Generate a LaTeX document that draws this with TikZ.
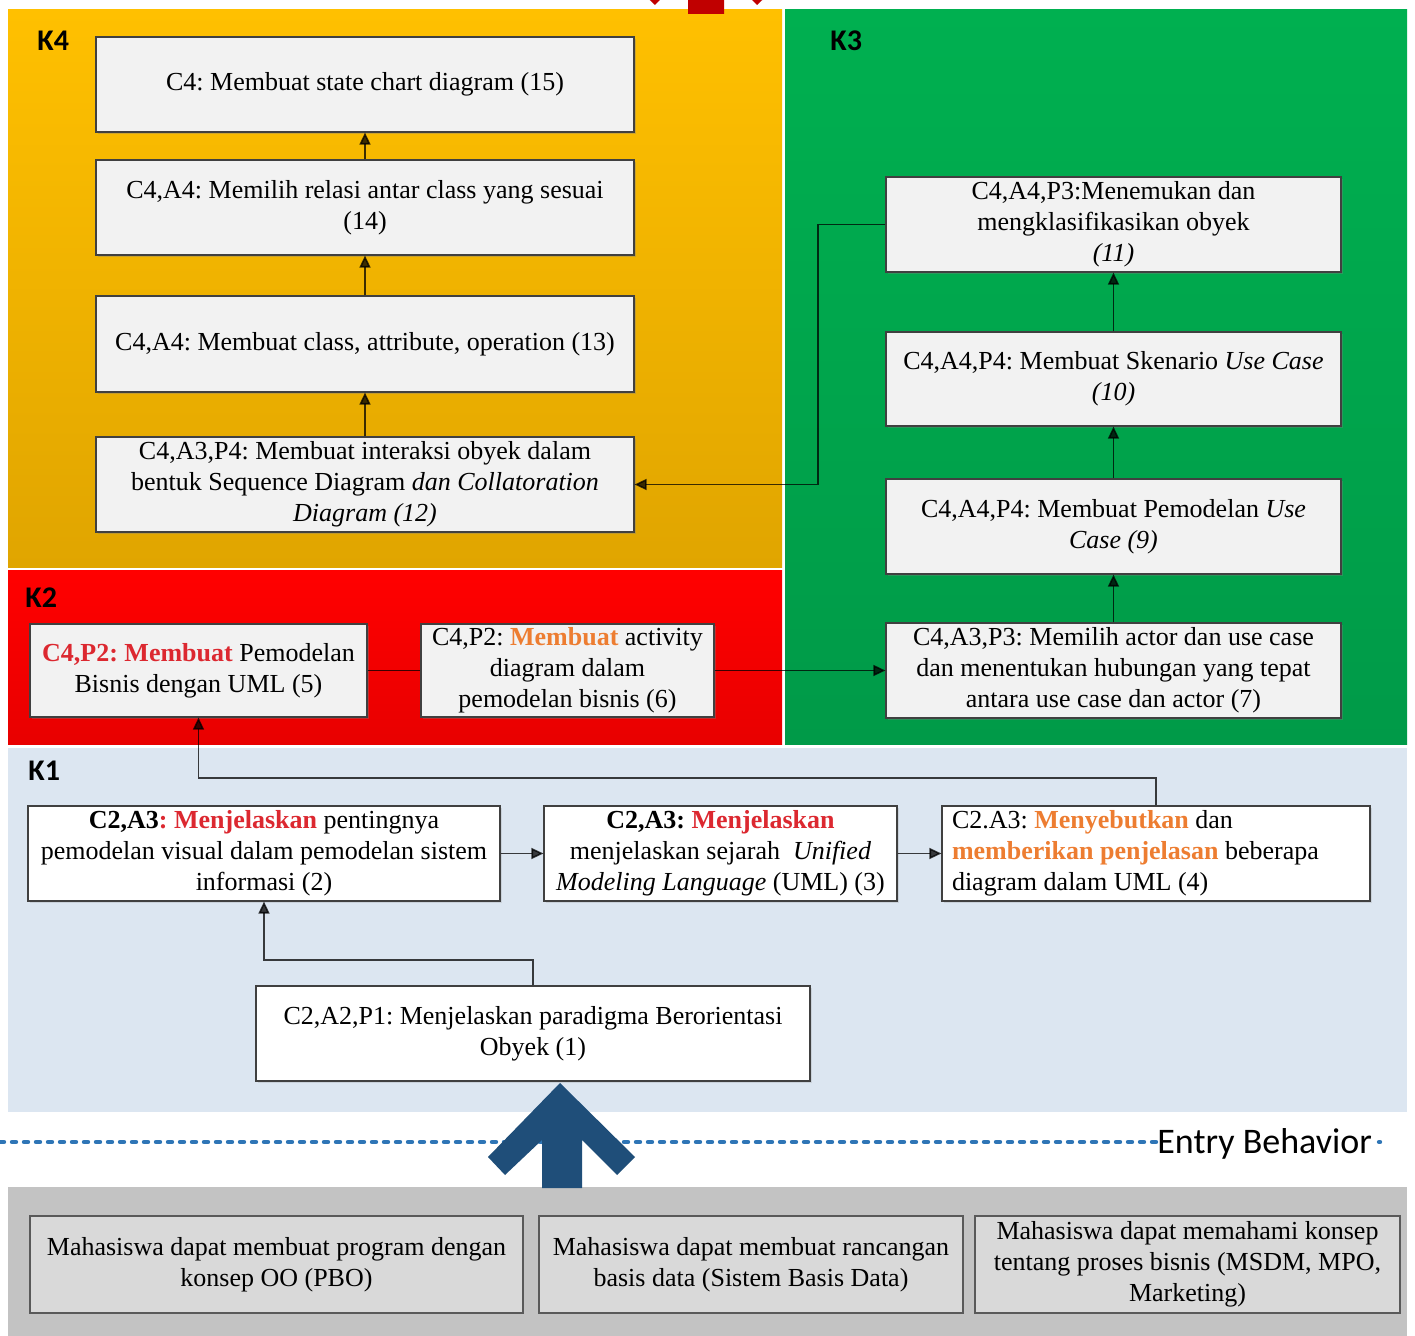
\documentclass[tikz,border=0pt]{standalone}
\usepackage{fontspec}
\setmainfont{Liberation Serif}
\newfontfamily\calibri{Carlito}
\usetikzlibrary{arrows.meta,shadows,calc}
\frenchspacing
\definecolor{kgoldtop}{HTML}{FFC000}
\definecolor{kgoldbot}{HTML}{E0A500}
\definecolor{kgreentop}{HTML}{00B050}
\definecolor{kgreenbot}{HTML}{009A48}
\definecolor{kredtop}{HTML}{FF0000}
\definecolor{kredbot}{HTML}{E80000}
\definecolor{klightblue}{HTML}{DCE6F1}
\definecolor{kgrey}{HTML}{C3C3C3}
\definecolor{kboxfill}{HTML}{F2F2F2}
\definecolor{kgreybox}{HTML}{D9D9D9}
\definecolor{ktxtred}{HTML}{DC2830}
\definecolor{ktxtorange}{HTML}{ED7D31}
\definecolor{knavy}{HTML}{1F4E79}
\definecolor{kdotblue}{HTML}{2E75B6}
\definecolor{kdarkred}{HTML}{C00000}
\begin{document}
\frenchspacing
\begin{tikzpicture}[x=0.5pt,y=-0.5pt,
  basebox/.style={draw=black!75, line width=0.6pt, align=center, inner sep=0pt,
    font=\fontsize{13}{15.5}\selectfont},
  cbox/.style={basebox, fill=kboxfill,
    drop shadow={shadow xshift=1.2pt, shadow yshift=-1.2pt, opacity=0.35}},
  wbox/.style={basebox, fill=white,
    drop shadow={shadow xshift=1pt, shadow yshift=-1pt, opacity=0.2}},
  ebox/.style={basebox, fill=kgreybox, draw=black!65},
  arr/.style={draw=black, opacity=0.75, line width=0.8pt, -{Triangle[length=6pt,width=5.5pt]}},
  plain/.style={draw=black, opacity=0.75, line width=0.8pt},
  klabel/.style={font=\calibri\bfseries\fontsize{15}{18}\selectfont, inner sep=0pt, anchor=base west},
  dotline/.style={draw=kdotblue, line width=2.2pt, line cap=round, dash pattern=on 2pt off 4pt}
]
\useasboundingbox (0,0) rectangle (1415,1336);
\fill[white] (0,0) rectangle (1415,1336);

% regions
\shade[top color=kgoldtop, bottom color=kgoldbot] (8,10) rectangle (782,568);
\shade[top color=kgreentop, bottom color=kgreenbot] (785,10) rectangle (1407,745);
\shade[top color=kredtop, bottom color=kredbot] (8,571) rectangle (782,745);
\fill[klightblue] (8,748) rectangle (1407,1112);
\fill[kgrey] (8,1187) rectangle (1407,1336);

% top red arrow (cut off)
\begin{scope}
\clip (0,0) rectangle (1415,30);
\fill[kdarkred] (706,-82) -- (776,-13) -- (757,5) -- (724,-28) -- (724,14) -- (688,14) -- (688,-28) -- (655,5) -- (636,-13) -- cycle;
\end{scope}

% labels
\node[klabel] (lk4) at (37,51) {K4};
\node[klabel] (lk3) at (830,51) {K3};
\node[klabel] (lk2) at (25,608) {K2};
\node[klabel] (lk1) at (28,781) {K1};

% K4 boxes
\node[cbox, minimum width=269pt, minimum height=47.5pt] (b15) at (365,84.5) {C4: Membuat state chart diagram (15)};
\node[cbox, minimum width=269pt, minimum height=47.5pt] (b14) at (365,207.5) {C4,A4: Memilih relasi antar class yang sesuai\\(14)};
\node[cbox, minimum width=269pt, minimum height=48pt] (b13) at (365,344) {C4,A4: Membuat class, attribute, operation (13)};
\node[cbox, minimum width=269pt, minimum height=47.5pt] (b12) at (365,484.5) {C4,A3,P4: Membuat interaksi obyek dalam\\bentuk Sequence Diagram \textit{dan Collatoration}\\\textit{Diagram (12)}};

% K3 boxes
\node[cbox, minimum width=227.5pt, minimum height=47.5pt] (b11) at (1113.5,224.5) {C4,A4,P3:Menemukan dan\\mengklasifikasikan obyek\\\textit{(11)}};
\node[cbox, minimum width=227.5pt, minimum height=47pt] (b10) at (1113.5,379) {C4,A4,P4: Membuat Skenario \textit{Use Case}\\\textit{(10)}};
\node[cbox, minimum width=227.5pt, minimum height=47.5pt] (b9) at (1113.5,526.5) {C4,A4,P4: Membuat Pemodelan \textit{Use}\\\textit{Case (9)}};
\node[cbox, minimum width=227.5pt, minimum height=47.5pt] (b7) at (1113.5,670.5) {C4,A3,P3: Memilih actor dan use case\\dan menentukan hubungan yang tepat\\antara use case dan actor (7)};

% K2 boxes
\node[cbox, minimum width=168.5pt, minimum height=46.5pt] (b5) at (198.5,670.5) {{\color{ktxtred}\textbf{C4,P2: Membuat}} Pemodelan\\Bisnis dengan UML (5)};
\node[cbox, minimum width=146.5pt, minimum height=46.5pt] (b6) at (567.5,670.5) {C4,P2: {\color{ktxtorange}\textbf{Membuat}} activity\\diagram dalam\\pemodelan bisnis (6)};

% K1 boxes
\node[wbox, minimum width=236pt, minimum height=47.5pt] (b2) at (264,853.5) {\textbf{C2,A3}{\color{ktxtred}\textbf{: Menjelaskan}} pentingnya\\pemodelan visual dalam pemodelan sistem\\informasi (2)};
\node[wbox, minimum width=176.5pt, minimum height=47.5pt] (b3) at (720.5,853.5) {\textbf{C2,A3:} {\color{ktxtred}\textbf{Menjelaskan}}\\menjelaskan sejarah~ \textit{Unified}\\\textit{Modeling Language} (UML) (3)};
\node[wbox, text width=204pt, inner xsep=5pt, minimum height=47.5pt, align=flush left] (b4) at (1156,853.5) {C2.A3: {\color{ktxtorange}\textbf{Menyebutkan}} dan\\{\color{ktxtorange}\textbf{memberikan penjelasan}} beberapa\\diagram dalam UML (4)};
\node[wbox, minimum width=277pt, minimum height=47.5pt] (b1) at (533,1033.5) {C2,A2,P1: Menjelaskan paradigma Berorientasi\\Obyek (1)};

% entry behaviour boxes
\node[ebox, minimum width=246.5pt, minimum height=48.5pt] (e1) at (276.5,1264.5) {Mahasiswa dapat membuat program dengan\\konsep OO (PBO)};
\node[ebox, minimum width=212pt, minimum height=48.5pt] (e2) at (751,1264.5) {Mahasiswa dapat membuat rancangan\\basis data (Sistem Basis Data)};
\node[ebox, minimum width=212.5pt, minimum height=48.5pt] (e3) at (1187.5,1264.5) {Mahasiswa dapat memahami konsep\\tentang proses bisnis (MSDM, MPO,\\Marketing)};

% connectors K4
\draw[arr] (b14.north) -- (b15.south);
\draw[arr] (b13.north) -- (b14.south);
\draw[arr] (b12.north) -- (b13.south);
% K3
\draw[arr] (b7.north) -- (b9.south);
\draw[arr] (b9.north) -- (b10.south);
\draw[arr] (b10.north) -- (b11.south);
\coordinate (j1) at (818,0);
\draw[arr] (b11.west) -- (b11.west -| j1) -- (b12.east -| j1) -- (b12.east);
% K2
\draw[plain] (b5.east) -- (b6.west);
\draw[arr] (b6.east) -- (b7.west);
% K1
\draw[arr] (b2.east) -- (b3.west);
\draw[arr] (b3.east) -- (b4.west);
\coordinate (j2) at (0,778);
\draw[arr] (b4.north) -- (b4.north |- j2) -- (b5.south |- j2) -- (b5.south);
\coordinate (j3) at (0,960);
\draw[arr] (b1.north) -- (b1.north |- j3) -- (b2.south |- j3) -- (b2.south);

% entry behaviour line
\node[font=\calibri\fontsize{18}{20}\selectfont, inner sep=0pt, anchor=base west] (eb) at (1157,1153) {Entry Behavior};
\coordinate (dl) at (0,1142);
\draw[dotline] (dl) -- (dl -| eb.west);
\coordinate (dr) at (1379,1142);
\draw[dotline] (dr) -- ++(1,0);

% big navy arrow
\fill[knavy] (560,1083) -- (635,1157) -- (617,1175) -- (582,1140) -- (582,1188) -- (542,1188) -- (542,1140) -- (505,1175) -- (488,1157) -- cycle;
\end{tikzpicture}
\end{document}
